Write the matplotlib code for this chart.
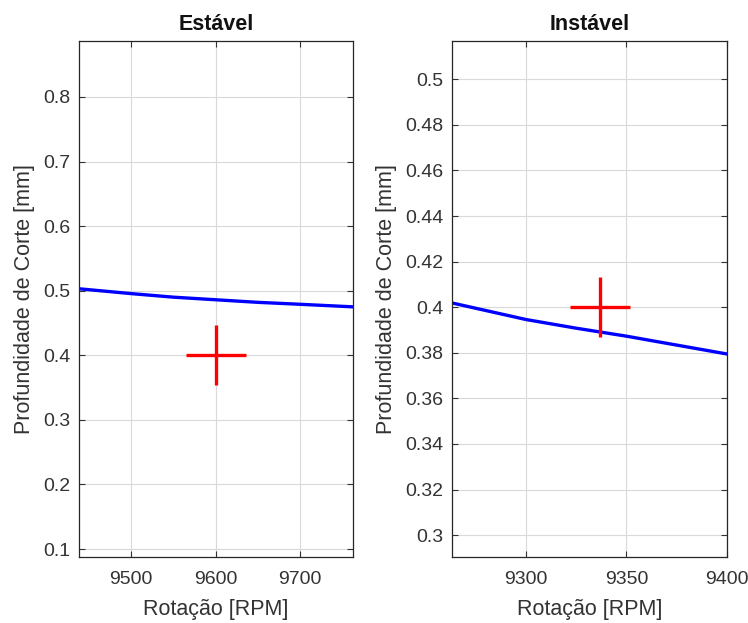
import matplotlib
matplotlib.use("Agg")
import matplotlib.pyplot as plt

plt.rcParams['font.family'] = ['Liberation Sans', 'DejaVu Sans']

# estavel: stability limit curve and test point
rpm_est = [9438, 9500, 9550, 9600, 9650, 9700, 9763]
prof_est = [0.503, 0.4955, 0.490, 0.486, 0.482, 0.479, 0.475]
ponto_est = (9601, 0.40)

# instavel
rpm_inst = [9263, 9300, 9325, 9350, 9375, 9400]
prof_inst = [0.4019, 0.3946, 0.3908, 0.3873, 0.3834, 0.3795]
ponto_inst = (9337, 0.40)

fig = plt.figure(figsize=(7.48, 6.23), dpi=100)
ax1 = fig.add_axes([0.1056, 0.1059, 0.3663, 0.8283])
ax2 = fig.add_axes([0.6039, 0.1059, 0.3676, 0.8283])

grey = '#333333'

def style(ax, titulo):
    ax.grid(True, color='#d9d9d9', linewidth=0.8)
    ax.set_axisbelow(True)
    ax.tick_params(direction='in', top=True, right=True, length=4,
                   labelsize=14, colors=grey, width=0.8)
    ax.tick_params(axis='x', pad=10)
    ax.tick_params(axis='y', pad=6)
    for s in ax.spines.values():
        s.set_color('#262626')
        s.set_linewidth(0.9)
    ax.set_title(titulo, fontsize=15.5, fontweight='bold', color='#111111', pad=8)
    ax.set_xlabel('Rotação [RPM]', fontsize=15.5, color=grey, labelpad=8)
    ax.set_ylabel('Profundidade de Corte [mm]', fontsize=15.5, color=grey, labelpad=6)

ax1.plot(rpm_est, prof_est, color='#0000ff', linewidth=2.4)
ax1.plot(*ponto_est, marker='+', color='#ff0000', markersize=43, markeredgewidth=2.4)
ax1.set_xlim(9438, 9763)
ax1.set_ylim(0.0876, 0.8867)
ax1.set_xticks([9500, 9600, 9700])
ax1.set_yticks([0.1, 0.2, 0.3, 0.4, 0.5, 0.6, 0.7, 0.8])
style(ax1, 'Estável')

ax2.plot(rpm_inst, prof_inst, color='#0000ff', linewidth=2.4)
ax2.plot(*ponto_inst, marker='+', color='#ff0000', markersize=43, markeredgewidth=2.4)
ax2.set_xlim(9263, 9400)
ax2.set_ylim(0.2904, 0.5168)
ax2.set_xticks([9300, 9350, 9400])
ax2.set_yticks([0.3, 0.32, 0.34, 0.36, 0.38, 0.4, 0.42, 0.44, 0.46, 0.48, 0.5])
ax2.set_yticklabels(['0.3', '0.32', '0.34', '0.36', '0.38', '0.4', '0.42', '0.44', '0.46', '0.48', '0.5'])
style(ax2, 'Instável')

fig.savefig('out.png', dpi=100, facecolor='white')
